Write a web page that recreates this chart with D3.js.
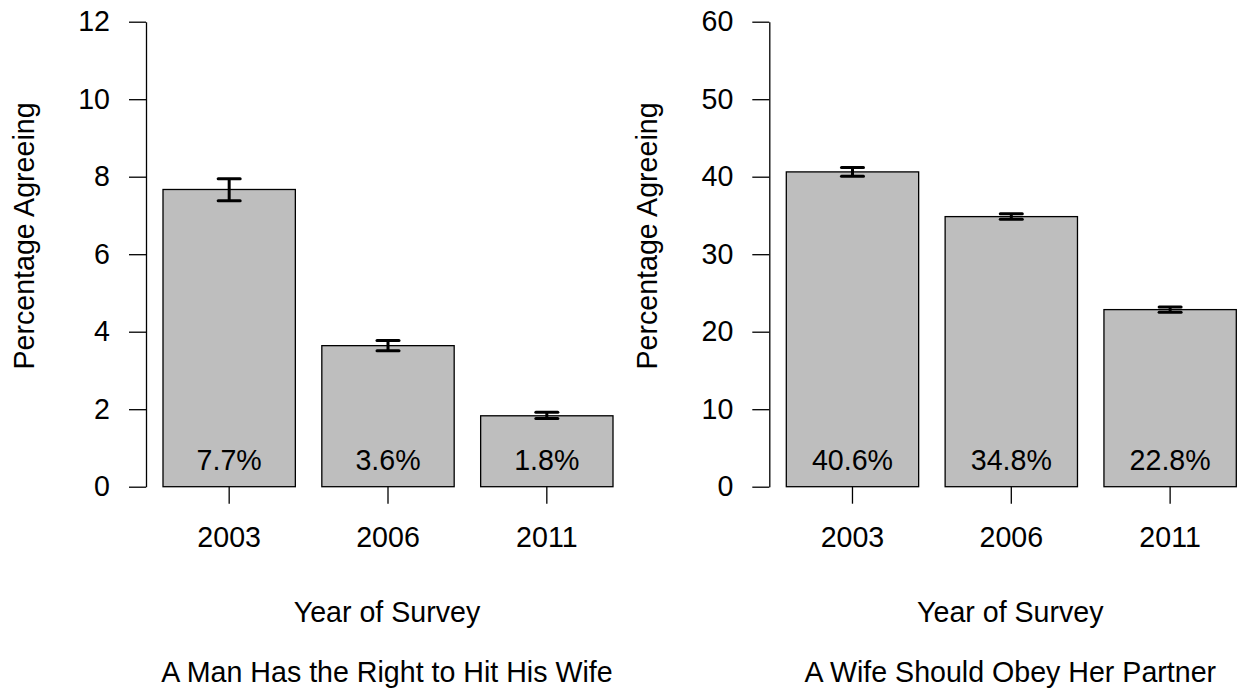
<!DOCTYPE html>
<html>
<head>
<meta charset="utf-8">
<script src="https://cdn.jsdelivr.net/npm/d3@7"></script>
<style>
  html, body { margin: 0; padding: 0; background: #fff; }
  svg { display: block; }
  text { font-family: "Liberation Sans", Arial, Helvetica, sans-serif; fill: #000; }
</style>
</head>
<body>
<svg id="chart" width="1244" height="694"></svg>
<script>
// ---- data ----
const years = ["2003", "2006", "2011"];

const hitValues = [7.67, 3.64, 1.83];
const hitLower  = [7.38, 3.51, 1.76];
const hitUpper  = [7.95, 3.77, 1.92];
const hitLabels = ["7.7%", "3.6%", "1.8%"];
const hitTicks  = [0, 2, 4, 6, 8, 10, 12];
const hitTitle  = "A Man Has the Right to Hit His Wife";

const obeyValues = [40.62, 34.85, 22.85];
const obeyLower  = [40.06, 34.50, 22.50];
const obeyUpper  = [41.18, 35.22, 23.20];
const obeyLabels = ["40.6%", "34.8%", "22.8%"];
const obeyTicks  = [0, 10, 20, 30, 40, 50, 60];
const obeyTitle  = "A Wife Should Obey Her Partner";

const yLabel = "Percentage Agreeing";
const xLabel = "Year of Survey";

// ---- drawing ----
const svg = d3.select("#chart");
const FS = 28.6;
const y0 = 486.7, yTop = 21.7;

function panel(offsetX, values, lower, upper, labels, ticks, title) {
  const axisX = 146 + offsetX;
  const g = svg.append("g");

  const x = d3.scaleBand()
    .domain(years)
    .range([163 + offsetX, 613 + offsetX])
    .paddingInner(1 / 6)
    .paddingOuter(0);

  const y = d3.scaleLinear()
    .domain([0, d3.max(ticks)])
    .range([y0, yTop]);

  // bars
  g.selectAll("rect.bar")
    .data(values)
    .join("rect")
    .attr("class", "bar")
    .attr("x", (d, i) => x(years[i]))
    .attr("width", x.bandwidth())
    .attr("y", d => y(d))
    .attr("height", d => y(0) - y(d))
    .attr("fill", "#BEBEBE")
    .attr("stroke", "#000")
    .attr("stroke-width", 1.3);

  // error bars
  const cx = i => x(years[i]) + x.bandwidth() / 2;
  const eb = g.selectAll("g.err").data(values).join("g").attr("class", "err")
    .attr("stroke", "#000").attr("stroke-width", 3).attr("fill", "none");
  eb.append("line")
    .attr("x1", (d, i) => cx(i)).attr("x2", (d, i) => cx(i))
    .attr("y1", (d, i) => y(lower[i])).attr("y2", (d, i) => y(upper[i]));
  eb.append("line")
    .attr("x1", (d, i) => cx(i) - 11).attr("x2", (d, i) => cx(i) + 11)
    .attr("y1", (d, i) => y(upper[i])).attr("y2", (d, i) => y(upper[i]))
    .attr("stroke-linecap", "round");
  eb.append("line")
    .attr("x1", (d, i) => cx(i) - 11).attr("x2", (d, i) => cx(i) + 11)
    .attr("y1", (d, i) => y(lower[i])).attr("y2", (d, i) => y(lower[i]))
    .attr("stroke-linecap", "round");

  // value labels in bars
  g.selectAll("text.val")
    .data(labels)
    .join("text")
    .attr("class", "val")
    .attr("x", (d, i) => cx(i))
    .attr("y", 470)
    .attr("text-anchor", "middle")
    .attr("font-size", FS)
    .text(d => d);

  // y axis
  const ya = g.append("g")
    .attr("transform", `translate(${axisX},0)`)
    .call(d3.axisLeft(y).tickValues(ticks).tickSize(17).tickSizeOuter(0).tickPadding(19));
  ya.selectAll("path, line").attr("stroke", "#000").attr("stroke-width", 1.3);
  ya.selectAll("text").attr("font-size", FS).attr("font-family", null).attr("fill", "#000");

  // x axis (ticks only)
  const xa = g.append("g")
    .attr("transform", `translate(0,${y0})`)
    .call(d3.axisBottom(x).tickSize(17).tickSizeOuter(0).tickPadding(23.4));
  xa.select("path.domain").remove();
  xa.selectAll("line").attr("stroke", "#000").attr("stroke-width", 1.3);
  xa.selectAll("text").attr("font-size", FS).attr("font-family", null).attr("fill", "#000")
    .attr("dy", "0.71em");

  const midX = (x.range()[0] + x.range()[1]) / 2 - 1;

  // x label
  g.append("text")
    .attr("x", midX).attr("y", 622)
    .attr("text-anchor", "middle").attr("font-size", FS)
    .text(xLabel);

  // title (below)
  g.append("text")
    .attr("x", midX).attr("y", 682)
    .attr("text-anchor", "middle").attr("font-size", FS)
    .text(title);

  // y label
  g.append("text")
    .attr("transform", `translate(${34 + offsetX},236) rotate(-90)`)
    .attr("text-anchor", "middle").attr("font-size", FS)
    .text(yLabel);
}

panel(0, hitValues, hitLower, hitUpper, hitLabels, hitTicks, hitTitle);
panel(623.3, obeyValues, obeyLower, obeyUpper, obeyLabels, obeyTicks, obeyTitle);
</script>
</body>
</html>
